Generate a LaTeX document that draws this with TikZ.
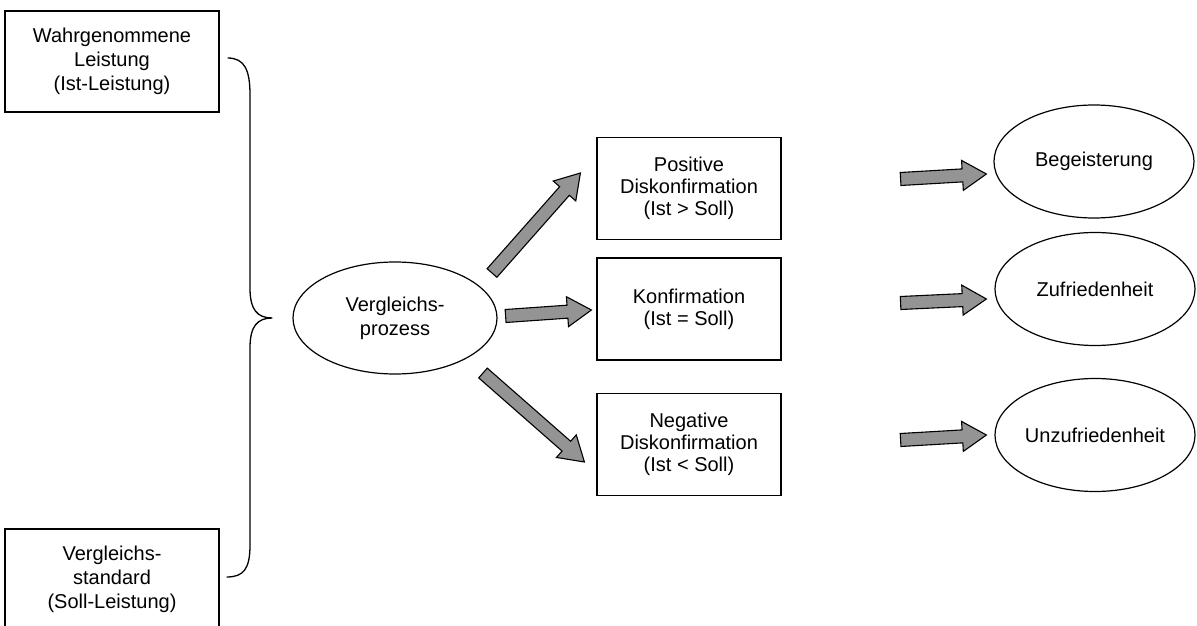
\documentclass[tikz,border=0pt]{standalone}
\usepackage{fontspec}
\setmainfont{Liberation Sans}
\usetikzlibrary{calc,shapes.geometric}
\newcommand{\fatArrow}[2]{%
  \coordinate (neck) at ($(#2)!24pt!(#1)$);
  \filldraw[arrowStyle] ($(#1)!6.5pt!90:(#2)$) -- ($(neck)!6.5pt!90:(#2)$) -- ($(neck)!15pt!90:(#2)$) -- (#2)
    -- ($(neck)!15pt!-90:(#2)$) -- ($(neck)!6.5pt!-90:(#2)$) -- ($(#1)!6.5pt!-90:(#2)$) -- cycle;}
\begin{document}
\begin{tikzpicture}[x=1pt, y=-1pt, nodeStyle/.style={rectangle, draw, line width=1.2pt, align=center, inner sep=0pt, font=\fontsize{20}{24}\selectfont}, leftStyle/.style={nodeStyle, minimum width=214, minimum height=101}, midStyle/.style={nodeStyle, minimum width=184, minimum height=102, font=\fontsize{20}{22}\selectfont}, ellStyle/.style={ellipse, draw, line width=1.2pt, align=center, inner sep=0pt, minimum width=200, minimum height=113, font=\fontsize{20}{24}\selectfont}, arrowStyle/.style={fill=black!42, draw=black, line width=1.1pt, line join=miter}, braceStyle/.style={draw, line width=1.3pt}]
                    \useasboundingbox (0,0) rectangle (1197,626);

                    \node[leftStyle] (ist)  at (112,  61.5) {Wahrgenommene\\Leistung\\(Ist-Leistung)};
                    \node[leftStyle] (soll) at (112, 579.5) {Vergleichs-\\standard\\(Soll-Leistung)};

                    \node[ellStyle, minimum width=204, minimum height=112] (vgl) at (395, 318) {Vergleichs-\\prozess};

                    \node[midStyle] (pos)  at (689, 188.5) {Positive\\Diskonfirmation\\(Ist > Soll)};
                    \node[midStyle] (konf) at (689, 309)   {Konfirmation\\(Ist = Soll)};
                    \node[midStyle] (neg)  at (689, 444.5) {Negative\\Diskonfirmation\\(Ist < Soll)};

                    \node[ellStyle] (beg) at (1094, 161.5) {Begeisterung};
                    \node[ellStyle] (zuf) at (1095, 289)   {Zufriedenheit};
                    \node[ellStyle] (unz) at (1095, 435)   {Unzufriedenheit};

                    \coordinate (br_a)   at ($(ist.east)+(8,-3.5)$);
                    \coordinate (br_tip) at ($(vgl.west)+(-20,0)$);
                    \coordinate (br_b)   at ($(soll.east)+(7,-2.5)$);
                    \draw[braceStyle] (br_a) .. controls +(17,0) and +(0,-25) .. (250,95) -- (250,288)
                        .. controls +(0,22) and +(-15,0) .. (br_tip) .. controls +(-15,0) and +(0,-22) .. (250,348)
                        -- (250,545) .. controls +(0,24) and +(17,0) .. (br_b);

                    \coordinate (pos_t)  at ($(vgl.center)+(97,-45)$);
                    \coordinate (pos_h)  at ($(pos.west)+(-16,-15.5)$);
                    \coordinate (konf_t) at ($(vgl.east)+(8,-2)$);
                    \coordinate (konf_h) at ($(konf.west)+(-5,1)$);
                    \coordinate (neg_t)  at ($(vgl.center)+(88,55)$);
                    \coordinate (neg_h)  at ($(neg.west)+(-12,17.5)$);
                    \fatArrow{pos_t}{pos_h}
                    \fatArrow{konf_t}{konf_h}
                    \fatArrow{neg_t}{neg_h}

                    \coordinate (beg_t) at ($(pos.east)+(119,-9.5)$);
                    \coordinate (beg_h) at ($(beg.west)+(-7,12.5)$);
                    \coordinate (zuf_t) at ($(konf.east)+(119,-6)$);
                    \coordinate (zuf_h) at ($(zuf.west)+(-8,10)$);
                    \coordinate (unz_t) at ($(neg.east)+(119,-4.5)$);
                    \coordinate (unz_h) at ($(unz.west)+(-8,0)$);
                    \fatArrow{beg_t}{beg_h}
                    \fatArrow{zuf_t}{zuf_h}
                    \fatArrow{unz_t}{unz_h}
                \end{tikzpicture}
\end{document}
